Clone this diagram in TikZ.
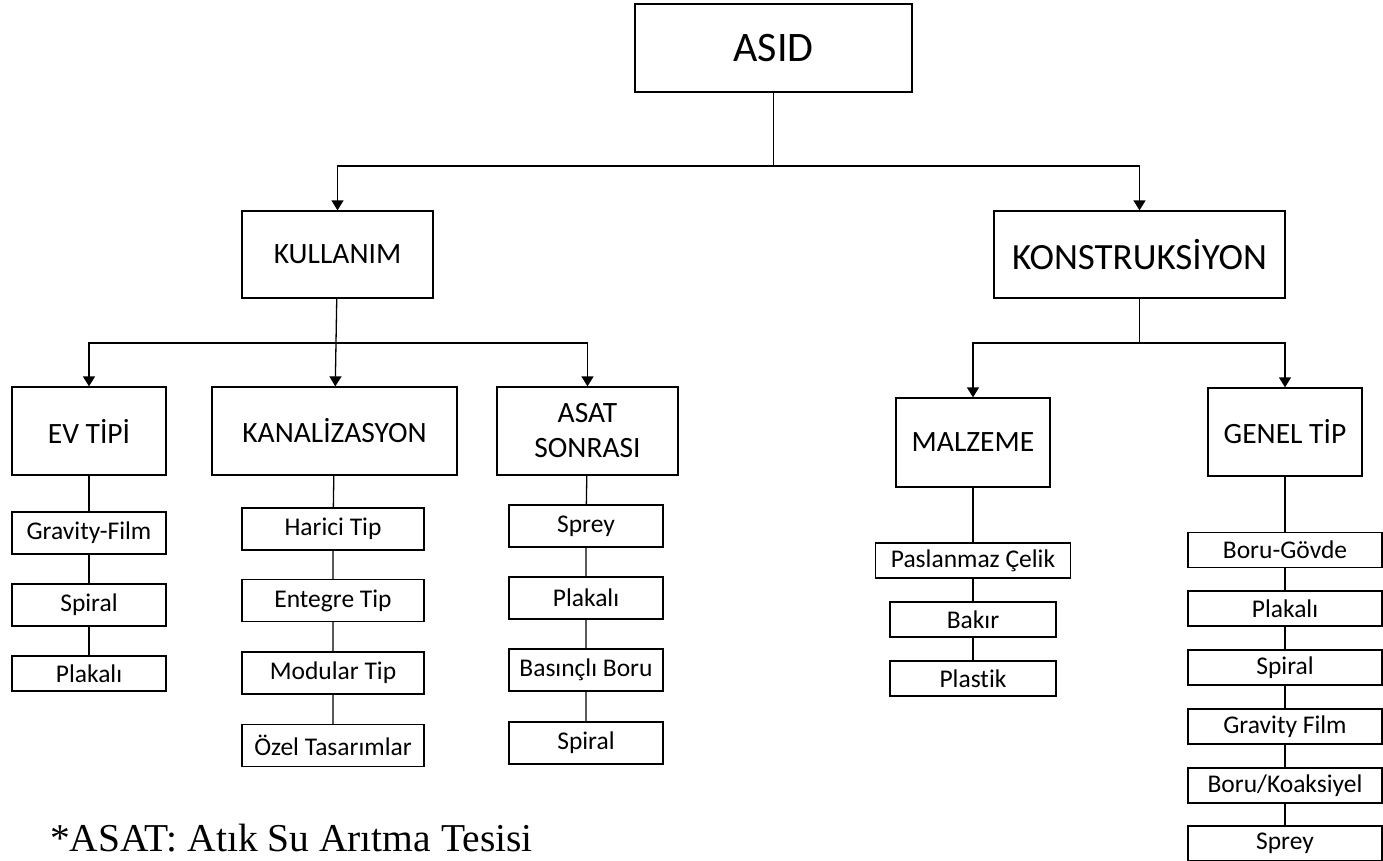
\documentclass[tikz,border=0pt]{standalone}
\usepackage{fontspec}
\setmainfont{Carlito}[Ligatures=NoCommon]
\newfontfamily\notefont{Liberation Serif}
\usetikzlibrary{arrows.meta}
\begin{document}
\begin{tikzpicture}[x=1pt,y=-1pt,
        box/.style={draw,line width=1.3pt,inner sep=0pt,align=center},
        big/.style={box,minimum height=88pt,font=\fontsize{29.5}{35}\selectfont},
        small/.style={box,minimum width=154pt,minimum height=42pt,font=\fontsize{25.5}{30}\selectfont},
        thin/.style={small,minimum height=35pt},
        link/.style={line width=1.3pt},
        arrow/.style={link,-{Triangle[length=10pt,width=12pt]}}]
        \useasboundingbox (0,0) rectangle (1383,861);

        \node[big,minimum width=277pt,font=\fontsize{42}{50}\selectfont] (asid) at (773.5,48) {ASID};

        \node[big,minimum width=191pt,minimum height=87pt] (kullanim) at (337.5,254.5) {KULLANIM};
        \node[big,minimum width=291pt,minimum height=87pt,font=\fontsize{37}{44}\selectfont] (konst) at (1139.5,254.5) {KONSTRUKSİYON};

        \node[big,minimum width=154pt] (evtipi) at (89,431) {EV TİPİ};
        \node[big,minimum width=245pt] (kanal) at (334.5,431) {KANALİZASYON};
        \node[big,minimum width=181pt] (asat) at (587.5,431) {ASAT\\SONRASI};
        \node[big,minimum width=154pt,minimum height=89pt] (malzeme) at (973,442.5) {MALZEME};
        \node[big,minimum width=154pt] (genel) at (1285,432) {GENEL TİP};

        \node[small] (ev1) at (89,533) {Gravity-Film};
        \node[small] (ev2) at (89,605) {Spiral};
        \node[thin] (ev3) at (89,673.5) {Plakalı};

        \node[small,minimum width=182pt] (kan1) at (333,529) {Harici Tip};
        \node[small,minimum width=182pt] (kan2) at (333,600.5) {Entegre Tip};
        \node[small,minimum width=182pt] (kan3) at (333,673) {Modular Tip};
        \node[small,minimum width=182pt] (kan4) at (333,745.5) {Özel Tasarımlar};

        \node[small] (as1) at (586,526) {Sprey};
        \node[small] (as2) at (586,598) {Plakalı};
        \node[small] (as3) at (586,670) {Basınçlı Boru};
        \node[small] (as4) at (586,743) {Spiral};

        \node[thin,minimum width=195pt] (mal1) at (973,560.5) {Paslanmaz Çelik};
        \node[thin,minimum width=166pt] (mal2) at (973,619.5) {Bakır};
        \node[thin,minimum width=166pt] (mal3) at (973,678.5) {Plastik};

        \node[thin,minimum width=194pt] (gen1) at (1285,550) {Boru-Gövde};
        \node[thin,minimum width=194pt] (gen2) at (1285,608.5) {Plakalı};
        \node[thin,minimum width=194pt] (gen3) at (1285,667.5) {Spiral};
        \node[thin,minimum width=194pt] (gen4) at (1285,726.5) {Gravity Film};
        \node[thin,minimum width=194pt] (gen5) at (1285,785.5) {Boru/Koaksiyel};
        \node[thin,minimum width=194pt] (gen6) at (1285,843.5) {Sprey};

        \node[anchor=base west,inner sep=0pt,font=\notefont\fontsize{39.5}{47}\selectfont] (note) at (50,851) {*ASAT: Atık Su Arıtma Tesisi};

        \coordinate (top) at (773.5,166);
        \coordinate (left) at (336.2,343);
        \coordinate (right) at (1139.5,343);

        \draw[link] (asid) -- (top);
        \draw[arrow] (top) -| (kullanim);
        \draw[arrow] (top) -| (konst);

        \draw[arrow] (kullanim) -- (kanal);
        \draw[arrow] (left) -| (evtipi);
        \draw[arrow] (left) -| (asat);

        \draw[link] (konst) -- (right);
        \draw[arrow] (right) -| (malzeme);
        \draw[arrow] (right) -| (genel);

        \draw[link] (evtipi) -- (ev1) -- (ev2) -- (ev3);
        \draw[link] (kanal) -- (kan1) -- (kan2) -- (kan3) -- (kan4);
        \draw[link] (asat) -- (as1) -- (as2) -- (as3) -- (as4);
        \draw[link] (malzeme) -- (mal1) -- (mal2) -- (mal3);
        \draw[link] (genel) -- (gen1) -- (gen2) -- (gen3) -- (gen4) -- (gen5) -- (gen6);
    \end{tikzpicture}
\end{document}
